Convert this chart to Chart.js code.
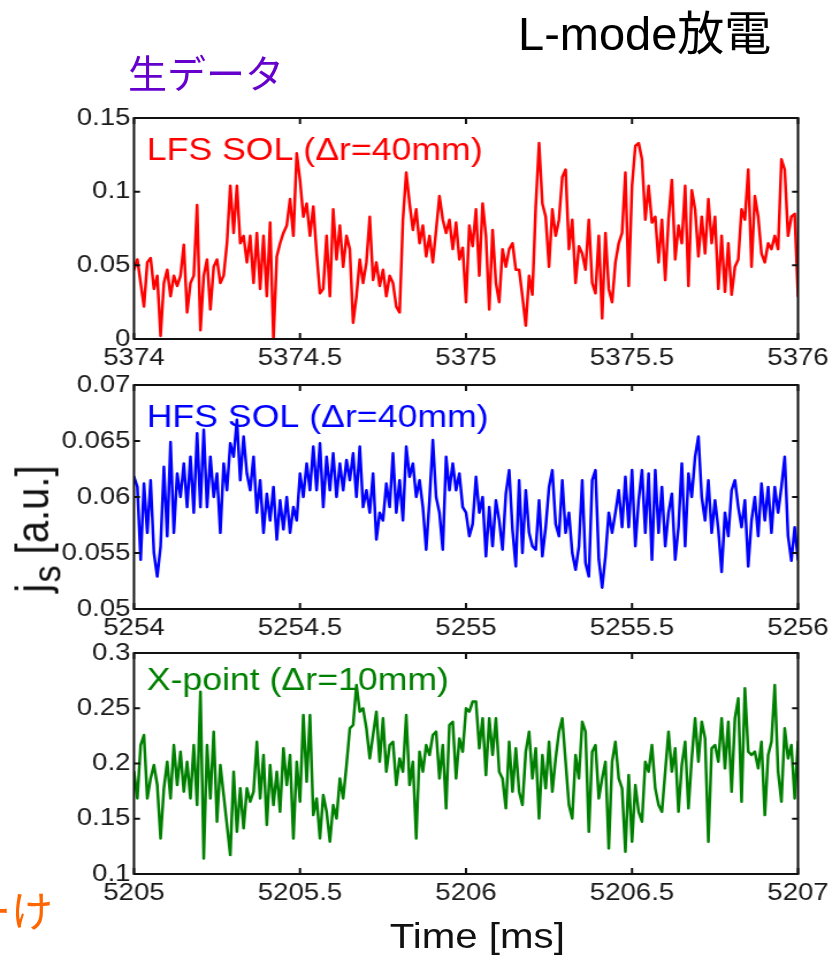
<!DOCTYPE html>
<html>
<head>
<meta charset="utf-8">
<title>L-mode放電 j_s</title>
<script src="https://cdn.jsdelivr.net/npm/chart.js@4.4.1/dist/chart.umd.min.js"></script>
<style>
  html, body { margin: 0; padding: 0; background: #fff; width: 840px; height: 959px; overflow: hidden; }
  /* the figure block is laid out at 730px and widened to 840px */
  #stage { position: absolute; left: 0; top: 0; width: 730px; height: 959px;
           transform: scaleX(1.150685); transform-origin: 0 0; }
  .panel { position: absolute; left: 0; width: 730px; }
  .panel canvas { display: block; }
  .txt { position: absolute; white-space: nowrap; line-height: 1; }
  #xtitle { left: 414.8px; top: 918px; transform: translateX(-50%);
            font: 35px "Liberation Sans", Arial, Helvetica, sans-serif; color: #111; line-height: 1; }
  #ytitle { left: 33px; top: 529px; transform: translate(-50%, -50%) rotate(-90deg);
            font: 40px "Liberation Sans", Arial, Helvetica, sans-serif; color: #111; line-height: 1; }
  #ytitle sub { font-size: 0.85em; vertical-align: -0.3em; margin-left: 0.04em; }
  #title { left: 518px; top: -5px; font: 47px "Liberation Sans", "Noto Sans CJK JP", sans-serif; color: #000; }
  #raw { left: 128px; top: 43px; font: 39px "Noto Sans CJK JP", sans-serif; color: #6600cc; }
  #side { left: -31px; top: 878px; font: 42px "Noto Sans CJK JP", sans-serif; color: #ff6600; }
</style>
</head>
<body>

<div id="stage">
  <div class="panel" style="top:95px;height:280px"><canvas id="lfs" width="730" height="280"></canvas></div>
  <div class="panel" style="top:360px;height:285px"><canvas id="hfs" width="730" height="285"></canvas></div>
  <div class="panel" style="top:630px;height:285px"><canvas id="xpt" width="730" height="285"></canvas></div>
  <div id="xtitle" class="txt">Time [ms]</div>
  <div id="ytitle" class="txt">j<sub>s</sub> [a.u.]</div>
</div>

<div id="title" class="txt">L-mode放電</div>
<div id="raw" class="txt">生データ</div>
<div id="side" class="txt">ーけ</div>

<script>
// ---- sampled ion saturation current, 0.01 ms sample period ----
const samplePeriod = 0.01; // ms

// LFS SOL (Δr = 40 mm), starting at 5374 ms
const lfsStart = 5374;
const lfsValues = [
  0.047, 0.054, 0.038, 0.022, 0.052, 0.055, 0.034, 0.043, 0.002, 0.038,
  0.047, 0.029, 0.043, 0.036, 0.043, 0.064, 0.018, 0.038, 0.043, 0.091,
  0.006, 0.043, 0.054, 0.020, 0.049, 0.054, 0.038, 0.043, 0.065, 0.104,
  0.072, 0.104, 0.065, 0.070, 0.052, 0.070, 0.038, 0.072, 0.034, 0.070,
  0.029, 0.079, 0.000, 0.056, 0.065, 0.072, 0.077, 0.095, 0.070, 0.126,
  0.108, 0.083, 0.092, 0.070, 0.090, 0.058, 0.031, 0.034, 0.070, 0.029,
  0.088, 0.054, 0.077, 0.049, 0.070, 0.061, 0.011, 0.029, 0.054, 0.038,
  0.052, 0.083, 0.040, 0.052, 0.036, 0.047, 0.029, 0.043, 0.038, 0.022,
  0.018, 0.081, 0.113, 0.092, 0.074, 0.088, 0.065, 0.077, 0.056, 0.070,
  0.052, 0.074, 0.097, 0.081, 0.072, 0.081, 0.061, 0.079, 0.054, 0.062,
  0.025,
  0.077, 0.063, 0.088, 0.043, 0.092, 0.070, 0.020, 0.074, 0.038, 0.025,
  0.061, 0.049, 0.061, 0.065, 0.047, 0.047, 0.029, 0.009, 0.043, 0.030,
  0.090, 0.133, 0.092, 0.083, 0.049, 0.088, 0.070, 0.081, 0.110, 0.115,
  0.061, 0.081, 0.038, 0.063, 0.058, 0.047, 0.081, 0.038, 0.031, 0.070,
  0.014, 0.072, 0.034, 0.025, 0.052, 0.065, 0.072, 0.113, 0.036, 0.104,
  0.131, 0.133, 0.122, 0.081, 0.104, 0.079, 0.083, 0.052, 0.081, 0.040,
  0.081, 0.108, 0.054, 0.077, 0.065, 0.104, 0.036, 0.101, 0.088, 0.056,
  0.083, 0.058, 0.095, 0.065, 0.083, 0.034, 0.070, 0.032, 0.065, 0.030,
  0.049, 0.054, 0.088, 0.081, 0.115, 0.049, 0.097, 0.083, 0.058, 0.052,
  0.065, 0.061, 0.070, 0.061, 0.122, 0.115, 0.070, 0.083, 0.085, 0.029
];
const lfsXTicks = [5374, 5374.5, 5375, 5375.5, 5376];
const lfsYTicks = [0, 0.05, 0.1, 0.15];

// HFS SOL (Δr = 40 mm), starting at 5254 ms
const hfsStart = 5254;
const hfsValues = [
  0.0618, 0.0609, 0.0544, 0.0612, 0.0568, 0.0615, 0.0550, 0.0529, 0.0556, 0.0627,
  0.0565, 0.0649, 0.0568, 0.0621, 0.0600, 0.0630, 0.0591, 0.0636, 0.0586, 0.0657,
  0.0591, 0.0660, 0.0591, 0.0636, 0.0600, 0.0621, 0.0568, 0.0630, 0.0606, 0.0648,
  0.0636, 0.0669, 0.0615, 0.0654, 0.0621, 0.0606, 0.0636, 0.0586, 0.0615, 0.0568,
  0.0603, 0.0579, 0.0609, 0.0562, 0.0597, 0.0571, 0.0600, 0.0568, 0.0591, 0.0579,
  0.0621, 0.0600, 0.0630, 0.0606, 0.0645, 0.0606, 0.0648, 0.0591, 0.0636, 0.0606,
  0.0639, 0.0600, 0.0630, 0.0606, 0.0633, 0.0615, 0.0639, 0.0600, 0.0645, 0.0591,
  0.0606, 0.0586, 0.0621, 0.0562, 0.0586, 0.0579, 0.0612, 0.0591, 0.0639, 0.0586,
  0.0615, 0.0579, 0.0645, 0.0618, 0.0630, 0.0600, 0.0615, 0.0591, 0.0553, 0.0597,
  0.0651, 0.0600, 0.0586, 0.0553, 0.0636, 0.0606, 0.0630, 0.0606, 0.0621, 0.0591,
  0.0586,
  0.0565, 0.0576, 0.0618, 0.0586, 0.0600, 0.0547, 0.0591, 0.0556, 0.0597, 0.0579,
  0.0553, 0.0603, 0.0624, 0.0571, 0.0538, 0.0615, 0.0550, 0.0606, 0.0568, 0.0556,
  0.0553, 0.0597, 0.0547, 0.0573, 0.0609, 0.0624, 0.0576, 0.0565, 0.0615, 0.0568,
  0.0586, 0.0550, 0.0535, 0.0556, 0.0615, 0.0541, 0.0529, 0.0615, 0.0624, 0.0544,
  0.0519, 0.0547, 0.0586, 0.0568, 0.0586, 0.0606, 0.0573, 0.0618, 0.0573, 0.0624,
  0.0556, 0.0597, 0.0624, 0.0568, 0.0621, 0.0544, 0.0624, 0.0568, 0.0609, 0.0556,
  0.0586, 0.0603, 0.0544, 0.0573, 0.0630, 0.0556, 0.0621, 0.0600, 0.0636, 0.0654,
  0.0600, 0.0579, 0.0615, 0.0568, 0.0597, 0.0571, 0.0533, 0.0586, 0.0565, 0.0606,
  0.0615, 0.0591, 0.0573, 0.0597, 0.0538, 0.0579, 0.0600, 0.0565, 0.0612, 0.0579,
  0.0609, 0.0568, 0.0609, 0.0586, 0.0609, 0.0636, 0.0565, 0.0543, 0.0573, 0.0544
];
const hfsXTicks = [5254, 5254.5, 5255, 5255.5, 5256];
const hfsYTicks = [0.05, 0.055, 0.06, 0.065, 0.07];

// X-point (Δr = 10 mm), starting at 5205 ms
const xptStart = 5205;
const xptValues = [
  0.1926, 0.1684, 0.2167, 0.2258, 0.1684, 0.1865, 0.1986, 0.1805, 0.1322, 0.1775,
  0.2016, 0.1684, 0.2167, 0.1805, 0.2107, 0.1745, 0.2016, 0.1684, 0.2167, 0.1624,
  0.2650, 0.1141, 0.2167, 0.1684, 0.2288, 0.1473, 0.1986, 0.1714, 0.1443, 0.1171,
  0.1926, 0.1382, 0.1775, 0.1413, 0.1775, 0.1654, 0.1745, 0.2197, 0.1684, 0.2077,
  0.1443, 0.1986, 0.1624, 0.1926, 0.1563, 0.2137, 0.1805, 0.2077, 0.1322, 0.2016,
  0.1654, 0.2439, 0.1835, 0.2439, 0.1533, 0.1684, 0.1322, 0.1714, 0.1563, 0.1292,
  0.1624, 0.1503, 0.1865, 0.1684, 0.1986, 0.2318, 0.2348, 0.2710, 0.2469, 0.2499,
  0.2318, 0.2046, 0.2258, 0.2469, 0.2016, 0.2409, 0.1926, 0.2167, 0.2197, 0.1805,
  0.2046, 0.1926, 0.2439, 0.1805, 0.2016, 0.1322, 0.2107, 0.1926, 0.2167, 0.2077,
  0.2258, 0.2288, 0.1865, 0.2167, 0.1594, 0.2348, 0.2378, 0.1865, 0.2227, 0.2107,
  0.2499,
  0.2469, 0.2560, 0.2560, 0.2137, 0.2409, 0.1895, 0.2409, 0.2077, 0.2409, 0.1926,
  0.1865, 0.1594, 0.2197, 0.1745, 0.2137, 0.1745, 0.1624, 0.2107, 0.2288, 0.1865,
  0.2137, 0.1503, 0.2077, 0.1775, 0.2197, 0.1745, 0.2046, 0.2288, 0.2409, 0.2016,
  0.1624, 0.1503, 0.2077, 0.1865, 0.2378, 0.2288, 0.1382, 0.2107, 0.2167, 0.1684,
  0.1865, 0.2016, 0.1232, 0.2016, 0.2197, 0.1865, 0.1775, 0.1202, 0.1895, 0.1292,
  0.1805, 0.1563, 0.1473, 0.2016, 0.1926, 0.2167, 0.1775, 0.1624, 0.1563, 0.1926,
  0.2288, 0.1926, 0.2137, 0.1563, 0.1986, 0.2197, 0.1594, 0.2046, 0.2409, 0.2016,
  0.2378, 0.2227, 0.1292, 0.2137, 0.2167, 0.2016, 0.2409, 0.1956, 0.2378, 0.1745,
  0.2409, 0.2590, 0.1654, 0.2680, 0.2107, 0.2077, 0.2107, 0.1956, 0.2197, 0.1533,
  0.2077, 0.2197, 0.2710, 0.1926, 0.1654, 0.2318, 0.2046, 0.2167, 0.1684, 0.2197
];
const xptXTicks = [5205, 5205.5, 5206, 5206.5, 5207];
const xptYTicks = [0.1, 0.15, 0.2, 0.25, 0.3];

// ---- layout (figure block is drawn 730px wide, then widened) ----
const SX = 840 / 730;
const AXIS_LEFT = 134 / SX;          // y axis band width
const PAD_RIGHT = 730 - 798 / SX;    // space right of the frame
const TICK_LEN = 6;
const tickFont = { family: '"Liberation Sans", Arial, Helvetica, sans-serif', size: 24 };
const inkColor = '#1a1a1a';

function fmtNum(v) { return String(Number(v.toFixed(4))); }

// frame, inward tick marks and the in-axes caption
const panelDeco = {
  id: 'panelDeco',
  beforeDatasetsDraw(chart, args, opts) {
    const { ctx, chartArea: a } = chart;
    ctx.save();
    ctx.font = '31px "Liberation Sans", Arial, Helvetica, sans-serif';
    ctx.fillStyle = opts.color;
    ctx.textBaseline = 'alphabetic';
    ctx.textAlign = 'left';
    ctx.fillText(opts.caption, a.left + 11, a.top + opts.captionBaseline);
    ctx.restore();
  },
  afterDatasetsDraw(chart, args, opts) {
    const { ctx, chartArea: a, scales } = chart;
    ctx.save();
    ctx.strokeStyle = '#111';
    ctx.lineWidth = 2;
    ctx.beginPath();
    opts.xTicks.forEach(v => {
      const px = scales.x.getPixelForValue(v);
      ctx.moveTo(px, a.bottom); ctx.lineTo(px, a.bottom - TICK_LEN);
      ctx.moveTo(px, a.top); ctx.lineTo(px, a.top + TICK_LEN);
    });
    const hl = TICK_LEN / SX;
    opts.yTicks.forEach(v => {
      const py = scales.y.getPixelForValue(v);
      ctx.moveTo(a.left, py); ctx.lineTo(a.left + hl, py);
      ctx.moveTo(a.right, py); ctx.lineTo(a.right - hl, py);
    });
    ctx.stroke();
    ctx.strokeRect(a.left, a.top, a.right - a.left, a.bottom - a.top);
    ctx.restore();
  }
};

function makePanel(cfg) {
  const points = cfg.values.map((v, i) => ({ x: cfg.start + i * samplePeriod, y: v }));
  return new Chart(document.getElementById(cfg.id), {
    type: 'line',
    data: {
      datasets: [{
        data: points,
        borderColor: cfg.color,
        borderWidth: 2.5,
        pointRadius: 0,
        tension: 0,
        fill: false,
        borderJoinStyle: 'round',
        borderCapStyle: 'round'
      }]
    },
    options: {
      responsive: false,
      animation: false,
      events: [],
      layout: { padding: { left: 0, right: PAD_RIGHT, top: cfg.padTop, bottom: 0 } },
      plugins: {
        legend: { display: false },
        tooltip: { enabled: false },
        panelDeco: {
          color: cfg.color, caption: cfg.caption, captionBaseline: cfg.captionBaseline,
          xTicks: cfg.xTicks, yTicks: cfg.yTicks
        }
      },
      scales: {
        x: {
          type: 'linear',
          min: cfg.xTicks[0], max: cfg.xTicks[cfg.xTicks.length - 1],
          grid: { display: false, drawTicks: false },
          border: { display: false },
          ticks: { font: tickFont, color: inkColor, padding: 5, maxRotation: 0, autoSkip: false,
                   callback: v => fmtNum(v) },
          afterBuildTicks: s => { s.ticks = cfg.xTicks.map(v => ({ value: v })); },
          afterFit: s => { s.height = cfg.xBand; }
        },
        y: {
          type: 'linear',
          min: cfg.yTicks[0], max: cfg.yTicks[cfg.yTicks.length - 1],
          grid: { display: false, drawTicks: false },
          border: { display: false },
          ticks: { font: tickFont, color: inkColor, padding: 3, callback: v => fmtNum(v) },
          afterBuildTicks: s => { s.ticks = cfg.yTicks.map(v => ({ value: v })); },
          afterFit: s => { s.width = AXIS_LEFT; }
        }
      }
    },
    plugins: [panelDeco]
  });
}

makePanel({ id: 'lfs', start: lfsStart, values: lfsValues, color: '#ff0000',
            caption: 'LFS SOL (Δr=40mm)', captionBaseline: 42,
            xTicks: lfsXTicks, yTicks: lfsYTicks, padTop: 23, xBand: 36 });
makePanel({ id: 'hfs', start: hfsStart, values: hfsValues, color: '#0000ff',
            caption: 'HFS SOL (Δr=40mm)', captionBaseline: 42,
            xTicks: hfsXTicks, yTicks: hfsYTicks, padTop: 25, xBand: 36 });
makePanel({ id: 'xpt', start: xptStart, values: xptValues, color: '#008000',
            caption: 'X-point (Δr=10mm)', captionBaseline: 37,
            xTicks: xptXTicks, yTicks: xptYTicks, padTop: 23, xBand: 41 });
</script>
</body>
</html>
